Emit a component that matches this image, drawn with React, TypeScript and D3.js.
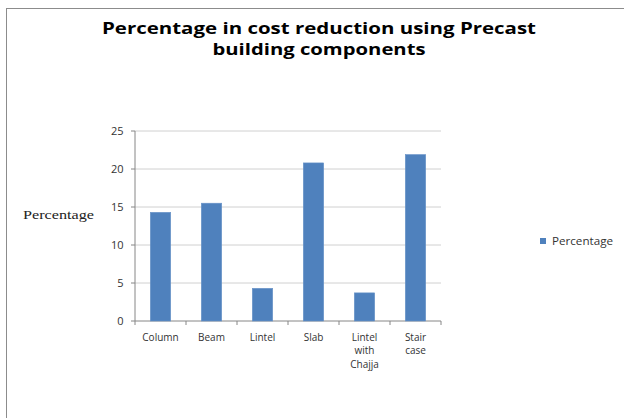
import React from "react";
import * as d3 from "d3";

const categories: string[][] = [["Column"], ["Beam"], ["Lintel"], ["Slab"], ["Lintel", "with", "Chajja"], ["Stair", "case"]];
const values: number[] = [14.3, 15.5, 4.3, 20.8, 3.7, 21.9];
const yTicks: number[] = [0, 5, 10, 15, 20, 25];
const seriesName = "Percentage";
const titleLines = ["Percentage in cost reduction using Precast", "building components"];

export default function App() {
  const W = 624, H = 418;
  const left = 135, right = 441, top = 131, bottom = 321;
  const x = d3.scaleBand<number>().domain(d3.range(values.length)).range([left, right]).paddingInner(0.6).paddingOuter(0.3);
  const xCat = d3.scaleBand<number>().domain(d3.range(values.length)).range([left, right]);
  const y = d3.scaleLinear().domain([0, 25]).range([bottom, top]);
  const font = "'Open Sans', 'Liberation Sans', sans-serif";
  return (
    <svg width={W} height={H} style={{ position: "absolute", left: 0, top: 0 }}>
      <rect x={0} y={0} width={W} height={H} fill="#fff" />
      <rect x={6.5} y={8.5} width={W} height={H} fill="none" stroke="#8c8c8c" strokeWidth={1} />
      {titleLines.map((t, i) => (
        <text key={i} x={319} y={34 + i * 21} textAnchor="middle" fontFamily={font} fontWeight="bold" fontSize={16.5}
          fill="#000" textLength={i === 0 ? 434 : 213} lengthAdjust="spacingAndGlyphs">{t}</text>
      ))}
      {yTicks.map((t) => (
        <g key={t}>
          {t > 0 && <line x1={left} x2={right} y1={y(t)} y2={y(t)} stroke="#d0d0d0" strokeWidth={1} />}
          <line x1={left - 4} x2={left} y1={y(t)} y2={y(t)} stroke="#868686" />
          <text x={123.5} y={y(t) + 4} textAnchor="end" fontFamily={font} fontSize={11} fill="#333">{t}</text>
        </g>
      ))}
      <line x1={left} x2={left} y1={top} y2={bottom} stroke="#868686" />
      <line x1={left} x2={right} y1={bottom} y2={bottom} stroke="#868686" />
      {d3.range(values.length + 1).map((i) => {
        const xx = left + i * xCat.step();
        return <line key={i} x1={xx} x2={xx} y1={bottom} y2={bottom + 4} stroke="#868686" />;
      })}
      {values.map((v, i) => (
        <rect key={i} x={x(i)} y={y(v)} width={x.bandwidth()} height={y(0) - y(v)} fill="#4f81bd" stroke="#6a94c8" strokeWidth={0.6} />
      ))}
      {categories.map((lines, i) =>
        lines.map((l, j) => (
          <text key={`${i}-${j}`} x={(xCat(i) as number) + xCat.bandwidth() / 2} y={340.5 + j * 13.5}
            textAnchor="middle" fontFamily={font} fontSize={10} fill="#333">{l}</text>
        ))
      )}
      <text x={23} y={219} fontFamily="'Liberation Serif', 'Times New Roman', serif" fontSize={13} fill="#222" textLength={71} lengthAdjust="spacingAndGlyphs">Percentage</text>
      <rect x={540} y={238} width={6} height={6} fill="#4f81bd" />
      <text x={552} y={245} fontFamily={font} fontSize={11} fill="#333" textLength={61} lengthAdjust="spacingAndGlyphs">{seriesName}</text>
    </svg>
  );
}
